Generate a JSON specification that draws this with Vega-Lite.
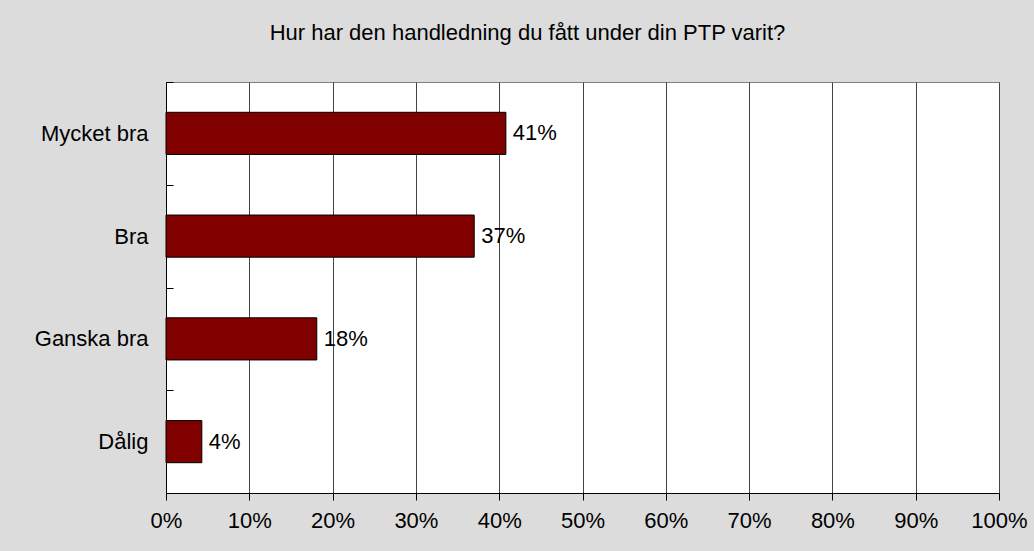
{
  "$schema": "https://vega.github.io/schema/vega-lite/v6.json",
  "width": 833,
  "height": 411,
  "autosize": {"type": "none"},
  "padding": {"left": 166, "top": 82, "right": 35, "bottom": 58},
  "background": "#dcdcdc",
  "title": {
    "text": "Hur har den handledning du fått under din PTP varit?",
    "fontSize": 22,
    "font": "Liberation Sans",
    "fontWeight": "normal",
    "color": "#000000",
    "anchor": "middle",
    "frame": "group",
    "dx": -55,
    "offset": 26
  },
  "config": {
    "view": {"fill": "#ffffff", "stroke": "#808080", "strokeWidth": 1},
    "font": "Liberation Sans"
  },
  "data": {
    "values": [
      {"svar": "Mycket bra", "andel": 0.408},
      {"svar": "Bra", "andel": 0.370},
      {"svar": "Ganska bra", "andel": 0.181},
      {"svar": "Dålig", "andel": 0.043}
    ]
  },
  "encoding": {
    "y": {
      "field": "svar",
      "type": "nominal",
      "sort": null,
      "scale": {"paddingInner": 0, "paddingOuter": 0},
      "axis": {
        "title": null,
        "tickBand": "extent",
        "tickSize": -7,
        "tickColor": "#000000",
        "domainColor": "#000000",
        "labelPadding": 25,
        "labelFontSize": 22,
        "labelColor": "#000000",
        "grid": false
      }
    },
    "x": {
      "field": "andel",
      "type": "quantitative",
      "scale": {"domain": [0, 1], "nice": false},
      "axis": {
        "title": null,
        "values": [0, 0.1, 0.2, 0.3, 0.4, 0.5, 0.6, 0.7, 0.8, 0.9, 1],
        "format": ".0%",
        "grid": true,
        "gridColor": "#444444",
        "gridOpacity": 1,
        "tickSize": 7,
        "tickColor": "#000000",
        "domainColor": "#000000",
        "labelPadding": 10,
        "labelFontSize": 22,
        "labelColor": "#000000",
        "labelFlush": false
      }
    }
  },
  "layer": [
    {
      "mark": {"type": "bar", "fill": "#800000", "stroke": "#000000", "strokeWidth": 1, "height": {"band": 0.41}}
    },
    {
      "mark": {"type": "text", "align": "left", "baseline": "middle", "dx": 7, "fontSize": 22, "color": "#000000"},
      "encoding": {
        "text": {"field": "andel", "type": "quantitative", "format": ".0%"}
      }
    }
  ]
}
